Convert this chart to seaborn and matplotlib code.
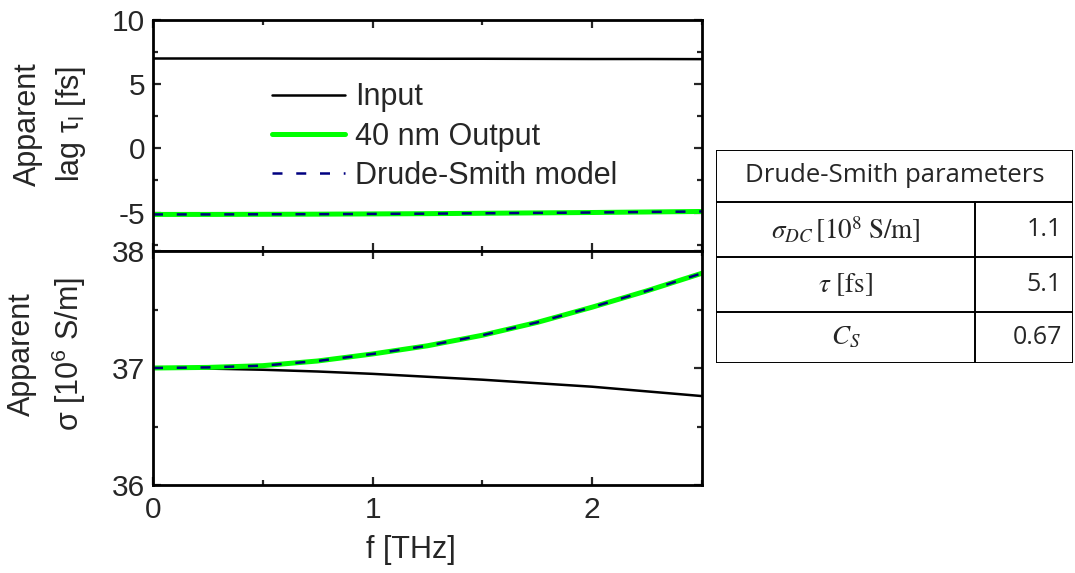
import numpy as np
import pandas as pd
import matplotlib
matplotlib.use("Agg")
import matplotlib.pyplot as plt
from matplotlib.ticker import MultipleLocator
import seaborn as sns

# ---------------- data ----------------
freq = [0.0, 0.25, 0.5, 0.75, 1.0, 1.25, 1.5, 1.75, 2.0, 2.25, 2.5]
lag_input = [7.0, 7.0, 7.0, 6.99, 6.99, 6.98, 6.98, 6.97, 6.96, 6.96, 6.95]
lag_output = [-5.15, -5.15, -5.14, -5.13, -5.11, -5.09, -5.06, -5.03, -5.0, -4.96, -4.92]
lag_model = [-5.15, -5.15, -5.14, -5.13, -5.11, -5.09, -5.06, -5.03, -5.0, -4.96, -4.92]
sigma_input = [37.0, 36.995, 36.985, 36.97, 36.95, 36.925, 36.90, 36.87, 36.84, 36.80, 36.76]
sigma_output = [37.0, 37.005, 37.02, 37.06, 37.12, 37.19, 37.28, 37.39, 37.52, 37.66, 37.81]
sigma_model = [37.0, 37.005, 37.02, 37.06, 37.12, 37.19, 37.28, 37.39, 37.52, 37.66, 37.81]

series_labels = ["Input", "40 nm Output", "Drude-Smith model"]
table_title = "Drude-Smith parameters"
param_names = [r"$\sigma_{DC}\,[10^8\;\mathrm{S/m}]$", r"$\tau\ [\mathrm{fs}]$", r"$C_S$"]
param_values = ["1.1", "5.1", "0.67"]

# ---------------- style ----------------
sns.set_style("ticks")
plt.rcParams["font.family"] = ["Liberation Sans", "DejaVu Sans"]
plt.rcParams["mathtext.fontset"] = "custom"
plt.rcParams["mathtext.rm"] = "Liberation Sans"
plt.rcParams["mathtext.it"] = "Liberation Sans:italic"
plt.rcParams["axes.unicode_minus"] = False
FS = 22
TFS = 21.5

fig = plt.figure(figsize=(10.75, 5.73), dpi=100)
W, H = 1075, 573
def box(l, t, r, b):
    return [l / W, 1 - b / H, (r - l) / W, (b - t) / H]

ax1 = fig.add_axes(box(153, 20, 702, 251))
ax2 = fig.add_axes(box(153, 251, 702, 485))

c_in, c_out, c_mod = "black", "#00FF00", "#000080"
dash = (4, 5.5)

df = pd.DataFrame({"f": freq, "lag_in": lag_input, "lag_out": lag_output, "lag_mod": lag_model,
                   "sig_in": sigma_input, "sig_out": sigma_output, "sig_mod": sigma_model})

for ax, cols in [(ax1, ("lag_in", "lag_out", "lag_mod")), (ax2, ("sig_in", "sig_out", "sig_mod"))]:
    sns.lineplot(data=df, x="f", y=cols[0], ax=ax, color=c_in, lw=1.8, label=series_labels[0])
    sns.lineplot(data=df, x="f", y=cols[1], ax=ax, color=c_out, lw=3.6, label=series_labels[1])
    l = sns.lineplot(data=df, x="f", y=cols[2], ax=ax, color=c_mod, lw=1.8, label=series_labels[2])
    l.lines[-1].set_dashes(dash)

for ax in (ax1, ax2):
    ax.set_xlim(0, 2.5)
    ax.xaxis.set_major_locator(MultipleLocator(1))
    ax.xaxis.set_minor_locator(MultipleLocator(0.5))
    ax.tick_params(which="both", direction="in", top=True, right=True, width=1.6,
                   labelsize=TFS, pad=5.5)
    ax.tick_params(which="major", length=6)
    ax.tick_params(which="minor", length=3.5)
    for s in ax.spines.values():
        s.set_linewidth(2.0)
        s.set_color("black")

ax1.set_ylim(-8, 10)
ax1.yaxis.set_major_locator(MultipleLocator(5))
ax1.yaxis.set_minor_locator(MultipleLocator(2.5))
ax1.tick_params(labelbottom=False)
ax1.set_xlabel("")
ax1.set_yticks([-5, 0, 5, 10])
ax1.set_ylabel("Apparent\nlag τ$_\\mathregular{l}$ [fs]", fontsize=FS, linespacing=1.45)
ax1.yaxis.set_label_coords(-0.118, 0.55)

ax2.set_ylim(36, 38)
ax2.yaxis.set_major_locator(MultipleLocator(1))
ax2.yaxis.set_minor_locator(MultipleLocator(0.5))
ax2.tick_params(axis="x", pad=8)
ax2.set_xlabel("f [THz]", fontsize=FS)
ax2.xaxis.set_label_coords(0.47, -0.215)
ax2.set_ylabel("Apparent\nσ [10$^\\mathregular{6}$ S/m]", fontsize=FS, linespacing=1.45)
ax2.yaxis.set_label_coords(-0.118, 0.56)

leg = ax1.legend(loc="center left", bbox_to_anchor=(0.216, 0.495), frameon=False,
                 fontsize=FS, handlelength=2.4, handletextpad=0.33, labelspacing=0.3,
                 borderpad=0, borderaxespad=0)
if ax2.get_legend():
    ax2.get_legend().remove()

# ---------------- parameter table ----------------
tax = fig.add_axes(box(716, 150, 1073, 363))
tax.set_xlim(716, 1073)
tax.set_ylim(363, 150)
tax.axis("off")
rows_y = [150, 202, 257, 312, 363]
lw_t = 1.4
for y in rows_y:
    tax.plot([716, 1073], [y, y], color="black", lw=lw_t, solid_capstyle="projecting")
tax.plot([716, 716], [150, 363], color="black", lw=lw_t)
tax.plot([1073, 1073], [150, 363], color="black", lw=lw_t)
tax.plot([975, 975], [202, 363], color="black", lw=lw_t)
tfont = ["Open Sans", "DejaVu Sans"]
tax.text((716 + 1073) / 2, (150 + 202) / 2, table_title, ha="center", va="center",
         fontsize=18.5, family=tfont)
for i, (nm, val) in enumerate(zip(param_names, param_values)):
    yc = (rows_y[i + 1] + rows_y[i + 2]) / 2
    tax.text((716 + 975) / 2, yc, nm, ha="center", va="center", fontsize=19.5,
             math_fontfamily="stix")
    tax.text(1062, yc, val, ha="right", va="center", fontsize=18, family=tfont)

fig.savefig("out.png", dpi=100)
